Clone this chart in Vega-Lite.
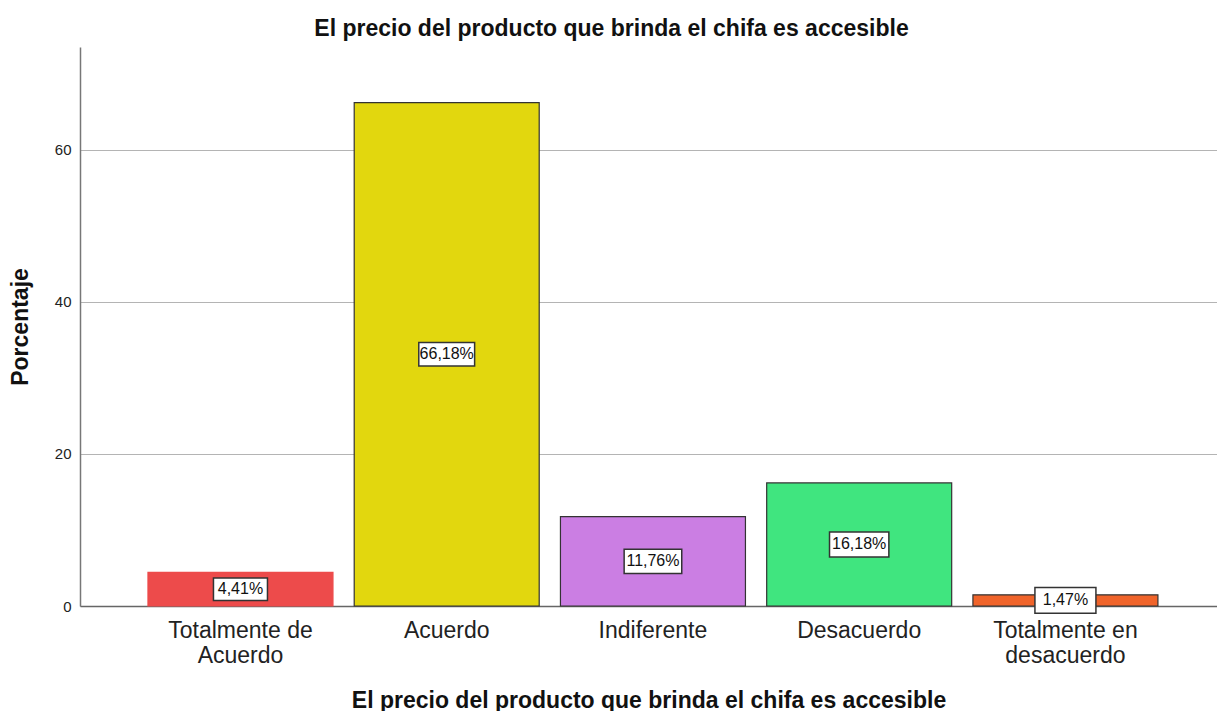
{
  "$schema": "https://vega.github.io/schema/vega-lite/v6.json",
  "width": 1137,
  "height": 559,
  "autosize": {"type": "none"},
  "padding": {"left": 80, "top": 47, "right": 0, "bottom": 105},
  "background": "white",
  "config": {
    "font": "Liberation Sans",
    "view": {"stroke": null}
  },
  "title": {
    "text": "El precio del producto que brinda el chifa es accesible",
    "fontSize": 23,
    "fontWeight": "bold",
    "color": "#111111",
    "anchor": "middle",
    "frame": "group",
    "dx": -37,
    "offset": 6
  },
  "data": {
    "values": [
      {"categoria": "Totalmente de Acuerdo", "valor": 4.41, "etiqueta": "4,41%"},
      {"categoria": "Acuerdo", "valor": 66.18, "etiqueta": "66,18%"},
      {"categoria": "Indiferente", "valor": 11.76, "etiqueta": "11,76%"},
      {"categoria": "Desacuerdo", "valor": 16.18, "etiqueta": "16,18%"},
      {"categoria": "Totalmente en desacuerdo", "valor": 1.47, "etiqueta": "1,47%"}
    ]
  },
  "transform": [{"calculate": "datum.valor / 2", "as": "medio"}],
  "encoding": {
    "x": {
      "field": "categoria",
      "type": "nominal",
      "sort": null,
      "scale": {"paddingInner": 0.103, "paddingOuter": 0.308, "align": 0.535},
      "axis": {
        "title": "El precio del producto que brinda el chifa es accesible",
        "titleFontSize": 23,
        "titleFontWeight": "bold",
        "titleColor": "#111111",
        "titlePadding": 22,
        "labelAngle": 0,
        "labelFontSize": 23,
        "labelColor": "#222222",
        "labelPadding": 13,
        "labelLineHeight": 25,
        "labelExpr": "datum.label == 'Totalmente de Acuerdo' ? ['Totalmente de', 'Acuerdo'] : datum.label == 'Totalmente en desacuerdo' ? ['Totalmente en', 'desacuerdo'] : datum.label",
        "ticks": false,
        "domainColor": "#666666",
        "domainWidth": 1.5,
        "grid": false
      }
    }
  },
  "layer": [
    {
      "mark": {"type": "bar", "strokeWidth": 1.2},
      "encoding": {
        "y": {
          "field": "valor",
          "type": "quantitative",
          "scale": {"domain": [0, 73.5], "nice": false},
          "axis": {
            "title": "Porcentaje",
            "titleFontSize": 23,
            "titleFontWeight": "bold",
            "titleColor": "#111111",
            "titlePadding": 22,
            "values": [0, 20, 40, 60],
            "labelFontSize": 15,
            "labelColor": "#222222",
            "labelPadding": 9,
            "ticks": false,
            "domainColor": "#777777",
            "domainWidth": 1.5,
            "grid": true,
            "gridColor": "#b4b4b4",
            "gridWidth": 1
          }
        },
        "color": {
          "field": "categoria",
          "type": "nominal",
          "legend": null,
          "scale": {
            "domain": ["Totalmente de Acuerdo", "Acuerdo", "Indiferente", "Desacuerdo", "Totalmente en desacuerdo"],
            "range": ["#ed4b4b", "#e2d70e", "#cb7ee3", "#40e57f", "#f0642a"]
          }
        },
        "stroke": {
          "condition": {"test": "datum.categoria == 'Totalmente de Acuerdo'", "value": "#ed4b4b"},
          "value": "#333333"
        }
      }
    },
    {
      "mark": {
        "type": "point",
        "filled": true,
        "fill": "white",
        "stroke": "#333333",
        "strokeWidth": 1.5,
        "opacity": 1,
        "shape": "M-1,-0.42L1,-0.42L1,0.42L-1,0.42Z"
      },
      "encoding": {
        "y": {"field": "medio", "type": "quantitative"},
        "size": {
          "field": "etiqueta",
          "type": "nominal",
          "legend": null,
          "scale": {
            "domain": ["4,41%", "66,18%", "11,76%", "16,18%", "1,47%"],
            "range": [2916, 3721, 3721, 3721, 2916]
          }
        }
      }
    },
    {
      "mark": {"type": "text", "fontSize": 16, "color": "#111111", "baseline": "middle", "align": "center"},
      "encoding": {
        "y": {"field": "medio", "type": "quantitative"},
        "text": {"field": "etiqueta"}
      }
    }
  ]
}
